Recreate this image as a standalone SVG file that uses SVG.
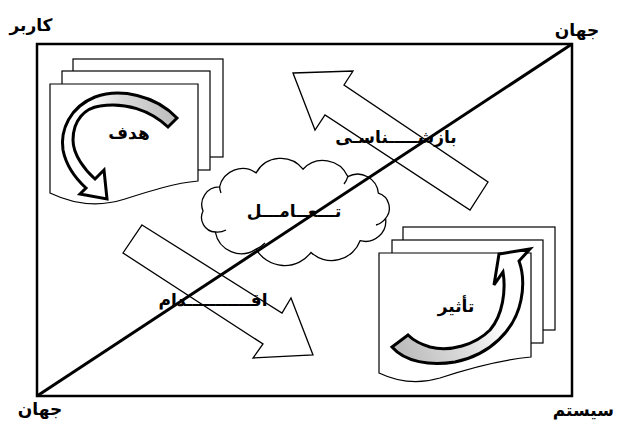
<svg xmlns="http://www.w3.org/2000/svg" width="617" height="424" viewBox="0 0 617 424">
<style>
.lbl{font-family:"DejaVu Sans","Noto Sans",sans-serif;font-weight:bold;font-size:17px;fill:#000}
.page{fill:#fff;stroke:#000;stroke-width:1.2}
.thin{fill:none;stroke:#000;stroke-width:1.3;stroke-linejoin:miter}
.curv{stroke:#000;stroke-width:3;stroke-linejoin:miter}
</style>
<defs>
<linearGradient id="g1" gradientUnits="userSpaceOnUse" x1="175" y1="120" x2="75" y2="140">
<stop offset="0" stop-color="#bdbdbd"/><stop offset="0.45" stop-color="#d8d8d8"/><stop offset="0.8" stop-color="#fff"/>
</linearGradient>
<linearGradient id="g2" gradientUnits="userSpaceOnUse" x1="400" y1="345" x2="515" y2="290">
<stop offset="0" stop-color="#bdbdbd"/><stop offset="0.45" stop-color="#dcdcdc"/><stop offset="0.8" stop-color="#fff"/>
</linearGradient>
</defs>
<rect width="617" height="424" fill="#fff"/>
<g id="frame"><rect x="37" y="44" width="535" height="352" fill="none" stroke="#000" stroke-width="2.5"/></g>
<g id="goal">
<rect class="page" x="73" y="59" width="150" height="98"/>
<rect class="page" x="62" y="71" width="148" height="99"/>
<path class="page" d="M50,84 H198 V181 C175,183 150,191 125,199 C100,207 75,205 50,193 Z"/>
<path class="curv" fill="url(#g1)" d="M177,118 C155,95 120,88 95,97 C70,107 60,130 63,150 C66,165 75,178 86,188 L80,194 L107,199 L104,170 L95,179 C85,170 73,155 73,140 C73,120 85,108 100,106 C125,102 150,110 168,127 Z"/>
<text class="lbl" x="129" y="139" text-anchor="middle">هدف</text>
</g>
<g id="effect">
<rect class="page" x="403" y="227" width="152" height="103"/>
<rect class="page" x="392" y="240" width="151" height="103"/>
<path class="page" d="M379,253 H531 V357 C500,360 470,368 440,378 C420,384 400,383 379,373 Z"/>
<path class="curv" fill="url(#g2)" d="M392,347 C405,362 430,366 455,362 C490,355 515,330 521,300 C524,285 523,272 519,261 L530,249 L499,254 L494,285 L503,272 C506,290 503,315 490,330 C475,345 450,352 430,347 C420,344 413,340 408,335 Z"/>
<text class="lbl" x="456" y="312" text-anchor="middle">تأثیر</text>
</g>
<g id="interaction">
<path class="thin" fill="#fff" d="M203,211 A17.6,17.6 0 0,1 219.6,186.9 A23.5,23.5 0 0,1 256.1,172.9 A28.2,28.2 0 0,1 303,169.2 A27.2,27.2 0 0,1 347.8,176.6 A20.9,20.9 0 0,1 378.4,193.2 A15.7,15.7 0 0,1 385.6,218.3 A20.4,20.4 0 0,1 360.1,240.7 A30.3,30.3 0 0,1 311,252.4 A33,33 0 0,1 256.1,249.1 A26.5,26.5 0 0,1 215.3,232 A14.6,14.6 0 0,1 203,211 Z"/>
<path class="thin" d="M219.6,186.9 A20,20 0 0,0 221,193 M347.8,176.6 A22,22 0 0,1 344,184 M385.6,218.3 A18,18 0 0,1 376,225 M256.1,249.1 A25,25 0 0,0 265,243 M215.3,232 A18,18 0 0,0 226,230"/>
</g>
<g id="connectors">
<path id="arrow-recognition" class="thin" d="M293,73 L353,71 L344,85 L488,182 L470,210 L325,115 L315,130 Z"/>
<path id="arrow-action" class="thin" d="M142,225 L282,313 L291,298 L313,355 L253,358 L263,344 L123,253 Z"/>
<line id="diagonal" x1="37" y1="396" x2="572" y2="44" stroke="#000" stroke-width="3"/>
</g>
<g id="labels">
<text class="lbl" x="294" y="217" text-anchor="middle">تـــعــامـــل</text>
<text class="lbl" x="396" y="143" text-anchor="middle">بازشـــــناسـی</text>
<text class="lbl" x="213" y="306" text-anchor="middle">اقـــــــــــدام</text>
<text class="lbl" x="31" y="31" text-anchor="middle">کاربر</text>
<text class="lbl" x="577" y="36" text-anchor="middle">جهان</text>
<text class="lbl" x="40" y="415" text-anchor="middle">جهان</text>
<text class="lbl" x="614" y="416" text-anchor="end">سیستم</text>
</g>
</svg>
